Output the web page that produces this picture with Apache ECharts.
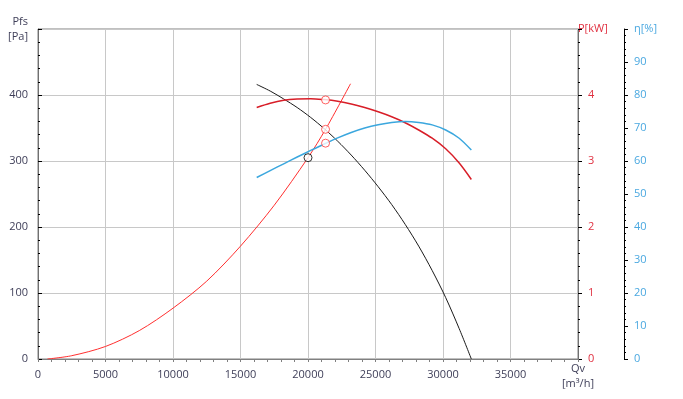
<!DOCTYPE html>
<html>
<head>
<meta charset="utf-8">
<script src="https://cdn.jsdelivr.net/npm/echarts@6/dist/echarts.min.js"></script>
<style>
html,body{margin:0;padding:0;background:#fff;}
#chart{width:683px;height:399px;}
</style>
</head>
<body>
<div id="chart"></div>
<script>
// Flow rates Qv [m³/h] at which the fan curves were read
var fanFlow = [16200, 17200, 18200, 19200, 20200, 21200, 22200, 23200, 24200, 25200, 26200, 27200, 28200, 29200, 30200, 31200, 32100];

// Fan pressure curve Pfs [Pa]
var pressureValues = [416, 406, 394, 381, 366, 349, 330, 309, 286, 261, 234, 204, 171, 134, 93, 46, 0];

// Shaft power P [kW]
var powerValues = [3.81, 3.875, 3.92, 3.94, 3.945, 3.93, 3.905, 3.865, 3.81, 3.745, 3.67, 3.58, 3.47, 3.345, 3.185, 2.97, 2.72];

// Efficiency η [%]
var effValues = [55.0, 57.1, 59.15, 61.2, 63.2, 65.15, 67.0, 68.65, 70.0, 71.0, 71.7, 72.0, 71.7, 70.95, 69.4, 66.9, 63.3];

// System curve Pfs [Pa]
var systemFlow = [700, 2500, 5000, 7500, 10000, 12500, 15000, 17500, 20000, 21300, 23150];
var systemValues = [0, 5, 19, 43, 77, 118, 171, 233, 305, 348, 417];

// Operating point (intersection) and design point
var operatingFlow = 21300;
var operatingPressure = 348;
var operatingPower = 3.925;
var operatingEff = 65.4;
var designFlow = 20000;
var designPressure = 305;

function pairs(xs, ys) { return xs.map(function (x, i) { return [x, ys[i]]; }); }

var FONT = 'Open Sans';
var TXT = '#3e3e58';
var RED_TXT = '#e03040';
var BLUE_TXT = '#4aa8e0';

var chart = echarts.init(document.getElementById('chart'), null, {renderer: 'canvas'});
chart.setOption({
  animation: false,
  backgroundColor: '#ffffff',
  grid: {left: 38, right: 105, top: 29, bottom: 40, show: true, borderColor: '#808080', borderWidth: 1, backgroundColor: 'transparent'},
  xAxis: {
    type: 'value', min: 0, max: 40000, interval: 5000,
    name: 'Qv\n[m³/h]', nameLocation: 'end', nameGap: 0, nameMoveOverlap: false,
    nameTextStyle: {color: TXT, fontFamily: FONT, fontSize: 11, align: 'center', verticalAlign: 'top', lineHeight: 15, padding: [2, 0, 0, 0]},
    axisLine: {show: true, lineStyle: {color: '#808080', width: 1}},
    axisTick: {show: true, inside: false, length: 3, lineStyle: {color: '#808080'}},
    minorTick: {show: true, splitNumber: 5, length: 3, lineStyle: {color: '#808080'}},
    axisLabel: {color: TXT, fontFamily: FONT, fontSize: 11, margin: 10, showMaxLabel: false,
      formatter: function (v) { return String(v); }},
    splitLine: {show: true, lineStyle: {color: '#c8c8c8', width: 1}}
  },
  yAxis: [
    {
      type: 'value', min: 0, max: 500, interval: 100, position: 'left',
      name: 'Pfs\n[Pa]', nameLocation: 'end', nameGap: 0, nameMoveOverlap: false,
      nameTextStyle: {color: TXT, fontFamily: FONT, fontSize: 11, align: 'right', verticalAlign: 'middle', lineHeight: 15, padding: [0, 10, 0, 0]},
      axisLine: {show: true, lineStyle: {color: '#707070', width: 1}},
      axisTick: {show: true, inside: true, length: 4, lineStyle: {color: '#000'}},
      minorTick: {show: true, splitNumber: 5, length: 2, lineStyle: {color: '#000'}},
      axisLabel: {color: TXT, fontFamily: FONT, fontSize: 11, margin: 10, showMaxLabel: false},
      splitLine: {show: true, lineStyle: {color: '#c8c8c8', width: 1}}
    },
    {
      type: 'value', min: 0, max: 5, interval: 1, position: 'right',
      name: 'P[kW]', nameLocation: 'end', nameGap: 0, nameMoveOverlap: false,
      nameTextStyle: {color: RED_TXT, fontFamily: FONT, fontSize: 11, align: 'left', verticalAlign: 'middle', padding: [0, 0, 0, 0]},
      axisLine: {show: true, lineStyle: {color: '#707070', width: 1}},
      axisTick: {show: true, inside: false, length: 4, lineStyle: {color: '#000'}},
      minorTick: {show: true, splitNumber: 5, length: 2, lineStyle: {color: '#000'}},
      axisLabel: {color: RED_TXT, fontFamily: FONT, fontSize: 11, margin: 10, showMaxLabel: false},
      splitLine: {show: false}
    },
    {
      type: 'value', min: 0, max: 100, interval: 10, position: 'right', offset: 46,
      name: 'η[%]', nameLocation: 'end', nameGap: 0, nameMoveOverlap: false,
      nameTextStyle: {color: BLUE_TXT, fontFamily: FONT, fontSize: 11, align: 'left', verticalAlign: 'middle', padding: [0, 0, 0, 10]},
      axisLine: {show: true, lineStyle: {color: '#000', width: 1}},
      axisTick: {show: true, inside: false, length: 4, lineStyle: {color: '#000'}},
      minorTick: {show: true, splitNumber: 5, length: 2, lineStyle: {color: '#000'}},
      axisLabel: {color: BLUE_TXT, fontFamily: FONT, fontSize: 11, margin: 10, showMaxLabel: false},
      splitLine: {show: false}
    }
  ],
  series: [
    {
      name: 'System', type: 'line', yAxisIndex: 0, smooth: 0.3, showSymbol: false, z: 2,
      lineStyle: {color: '#ff2f2f', width: 1}, data: pairs(systemFlow, systemValues)
    },
    {
      name: 'Pfs', type: 'line', yAxisIndex: 0, smooth: 0.3, showSymbol: false, z: 3,
      lineStyle: {color: '#1a1a1a', width: 1}, data: pairs(fanFlow, pressureValues)
    },
    {
      name: 'P', type: 'line', yAxisIndex: 1, smooth: 0.3, showSymbol: false, z: 3,
      lineStyle: {color: '#d81e28', width: 1.5}, data: pairs(fanFlow, powerValues)
    },
    {
      name: 'η', type: 'line', yAxisIndex: 2, smooth: 0.3, showSymbol: false, z: 3,
      lineStyle: {color: '#3ba7de', width: 1.5}, data: pairs(fanFlow, effValues)
    },
    {
      name: 'opPressure', type: 'scatter', yAxisIndex: 0, symbol: 'circle', symbolSize: 8, z: 5,
      itemStyle: {color: '#ffffff', borderColor: '#ff3b3b', borderWidth: 1},
      data: [[operatingFlow, operatingPressure]]
    },
    {
      name: 'opPower', type: 'scatter', yAxisIndex: 1, symbol: 'circle', symbolSize: 8, z: 5,
      itemStyle: {color: '#ffffff', borderColor: '#ff3b3b', borderWidth: 1},
      data: [[operatingFlow, operatingPower]]
    },
    {
      name: 'opEff', type: 'scatter', yAxisIndex: 2, symbol: 'circle', symbolSize: 8, z: 5,
      itemStyle: {color: '#ffffff', borderColor: '#ff3b3b', borderWidth: 1},
      data: [[operatingFlow, operatingEff]]
    },
    {
      name: 'design', type: 'scatter', yAxisIndex: 0, symbol: 'circle', symbolSize: 8, z: 5,
      itemStyle: {color: '#ffffff', borderColor: '#000000', borderWidth: 1},
      data: [[designFlow, designPressure]]
    }
  ]
});
</script>
</body>
</html>
